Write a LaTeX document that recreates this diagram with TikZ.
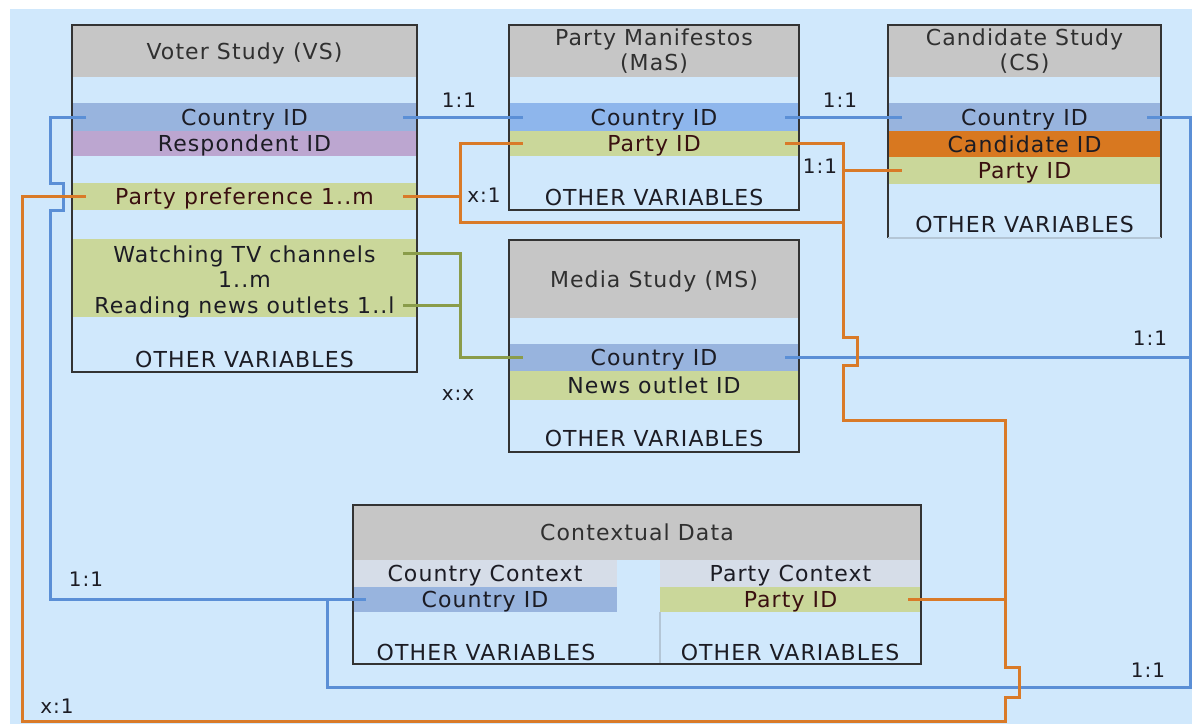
\documentclass[tikz,border=0pt]{standalone}
\usepackage{fontspec}
\setmainfont{DejaVu Sans}[LetterSpace=5.0]
\definecolor{bgblue}{HTML}{D0E8FC}
\definecolor{hdr}{HTML}{C6C6C6}
\definecolor{cid}{HTML}{98B4DE}
\definecolor{cidb}{HTML}{8EB6EC}
\definecolor{resp}{HTML}{BCA6D0}
\definecolor{grn}{HTML}{CAD79A}
\definecolor{cand}{HTML}{D87820}
\definecolor{subh}{HTML}{D6DDE8}
\definecolor{lblue}{HTML}{5B8FD6}
\definecolor{lorange}{HTML}{D97A28}
\definecolor{lgreen}{HTML}{8A9C4A}
\definecolor{bord}{HTML}{333333}
\definecolor{txt}{HTML}{1C1C24}
\definecolor{ptxt}{HTML}{3A1010}
\definecolor{htxt}{HTML}{303030}
\definecolor{sepc}{HTML}{B4C6D6}
\begin{document}
\begin{tikzpicture}[x=1pt,y=-1pt,
  every node/.style={inner sep=0pt, outer sep=0pt, font=\fontsize{22}{25}\selectfont, text=txt},
  capht/.style={text height=16pt, text depth=0pt},
  boxfill/.style={fill=bgblue},
  boxline/.style={draw=bord, line width=2pt},
  hdrnode/.style={fill=hdr, text=htxt, align=center},
  lab/.style={font=\fontsize{20}{22}\selectfont, text=txt, text height=14.5pt, text depth=0pt},
  bl/.style={draw=lblue, line width=3pt},
  orl/.style={draw=lorange, line width=3pt},
  grl/.style={draw=lgreen, line width=3pt},
]
\useasboundingbox (0,0) rectangle (1192,724);
\fill[white] (0,0) rectangle (1192,724);
\fill[bgblue] (10,9) rectangle (1192,724);

% ---------- Voter Study ----------
\fill[boxfill] (72,25) rectangle (417,372);
\node[hdrnode, capht, minimum width=345pt, minimum height=52pt] (vsH) at (244.5,51) {Voter Study (VS)};
\node[capht, fill=cid, minimum width=345pt, minimum height=28pt] (vsC) at (244.5,117) {Country ID};
\node[capht, fill=resp, minimum width=345pt, minimum height=25pt] (vsR) at (244.5,143.5) {Respondent ID};
\node[capht, fill=grn, text=ptxt, minimum width=345pt, minimum height=27pt] (vsP) at (244.5,196.5) {Party preference 1..m};
\node[fill=grn, align=center, minimum width=345pt, minimum height=55pt] (vsTV) at (244.5,266.5) {Watching TV channels\\1..m};
\node[capht, fill=grn, minimum width=345pt, minimum height=23pt] (vsRN) at (244.5,305.5) {Reading news outlets 1..l};
\node[capht] (vsO) at (244.5,359) {OTHER VARIABLES};
\draw[boxline] (72,25) rectangle (417,372);

% ---------- Party Manifestos ----------
\fill[boxfill] (509,25) rectangle (799,210);
\node[hdrnode, minimum width=290pt, minimum height=52pt] (mH) at (654,51) {Party Manifestos\\(MaS)};
\node[capht, fill=cidb, minimum width=290pt, minimum height=28pt] (mC) at (654,117) {Country ID};
\node[capht, fill=grn, text=ptxt, minimum width=290pt, minimum height=25pt] (mP) at (654,143.5) {Party ID};
\node[capht] (mO) at (654,197) {OTHER VARIABLES};
\draw[boxline] (509,25) rectangle (799,210);

% ---------- Candidate Study ----------
\fill[boxfill] (888,25) rectangle (1161,238);
\node[hdrnode, minimum width=273pt, minimum height=52pt] (cH) at (1024.5,51) {Candidate Study\\(CS)};
\node[capht, fill=cid, minimum width=273pt, minimum height=28pt] (cC) at (1024.5,117) {Country ID};
\node[capht, fill=cand, minimum width=273pt, minimum height=26pt] (cCand) at (1024.5,144) {Candidate ID};
\node[capht, fill=grn, text=ptxt, minimum width=273pt, minimum height=27pt] (cP) at (1024.5,170.5) {Party ID};
\node[capht] (cO) at (1024.5,224) {OTHER VARIABLES};
\draw[boxline] (888,238) -- (888,25) -- (1161,25) -- (1161,238);
\draw[draw=sepc, line width=2pt] (888,238) -- (1161,238);

% ---------- Media Study ----------
\fill[boxfill] (509,240) rectangle (799,452);
\node[hdrnode, capht, minimum width=290pt, minimum height=78pt] (msH) at (654,279) {Media Study (MS)};
\node[capht, fill=cid, minimum width=290pt, minimum height=27pt] (msC) at (654,357.5) {Country ID};
\node[capht, fill=grn, minimum width=290pt, minimum height=29pt] (msN) at (654,385.5) {News outlet ID};
\node[capht] (msO) at (654,438) {OTHER VARIABLES};
\draw[boxline] (509,240) rectangle (799,452);

% ---------- Contextual Data ----------
\fill[boxfill] (353,505) rectangle (921,664);
\node[hdrnode, capht, minimum width=568pt, minimum height=55pt] (ctH) at (637,532.5) {Contextual Data};
\node[capht, fill=subh, minimum width=264pt, minimum height=27pt] (ccH) at (485,573.5) {Country Context};
\node[capht, fill=cid, minimum width=264pt, minimum height=25pt] (ccC) at (485,599.5) {Country ID};
\node[capht, fill=subh, minimum width=261pt, minimum height=27pt] (pcH) at (790.5,573.5) {Party Context};
\node[capht, fill=grn, text=ptxt, minimum width=261pt, minimum height=25pt] (pcP) at (790.5,599.5) {Party ID};
\node[capht] (ccO) at (486,652) {OTHER VARIABLES};
\node[capht] (pcO) at (790,652) {OTHER VARIABLES};
\draw[draw=sepc, line width=1.5pt] (660,612) -- (660,664);
\draw[boxline] (353,505) rectangle (921,664);

% ---------- Connectors: blue ----------
\draw[bl] ([xshift=-14pt]vsC.east) -- ([xshift=14pt]mC.west);
\draw[bl] ([xshift=-14pt]mC.east) -- ([xshift=14pt]cC.west);
\draw[bl] ([xshift=14pt]vsC.west) -- (50,117) -- (50,183) -- (63,183) -- (63,210) -- (50,210) -- (50,599.5) -- ([xshift=13pt]ccC.west);
\draw[bl] ([xshift=-14pt]cC.east) -- (1190,117) -- (1190,687) -- (327,687) -- (327,599.5);
\draw[bl] ([xshift=-14pt]msC.east) -- (1190,357.5);

% ---------- Connectors: green ----------
\draw[grl] ([xshift=-14pt,yshift=13.5pt]vsTV.east) -- (460,253) -- (460,357.5) -- ([xshift=14pt]msC.west);
\draw[grl] ([xshift=-14pt]vsRN.east) -- (460,305.5);

% ---------- Connectors: orange ----------
\draw[orl] ([xshift=-14pt]vsP.east) -- (460,196.5) -- (460,143.5) -- ([xshift=14pt]mP.west);
\draw[orl] (460,196.5) -- (460,222) -- (843,222);
\draw[orl] ([xshift=-14pt]mP.east) -- (843,143.5) -- (843,337) -- (857,337) -- (857,365) -- (843,365) -- (843,420) -- (1005,420) -- (1005,667) -- (1019,667) -- (1019,697) -- (1005,697) -- (1005,721) -- (22,721) -- (22,196.5) -- ([xshift=14pt]vsP.west);
\draw[orl] (843,170.5) -- ([xshift=14pt]cP.west);
\draw[orl] ([xshift=-13pt]pcP.east) -- (1005,599.5);

% ---------- Cardinality labels ----------
\node[lab] (l1) at (459,100) {1:1};
\node[lab] (l2) at (840,100) {1:1};
\node[lab] (l3) at (820,166) {1:1};
\node[lab] (l4) at (484,195) {x:1};
\node[lab] (l5) at (458,393) {x:x};
\node[lab] (l6) at (1150,338) {1:1};
\node[lab] (l7) at (1148,670) {1:1};
\node[lab] (l8) at (86,579) {1:1};
\node[lab] (l9) at (57,706) {x:1};
\end{tikzpicture}
\end{document}
